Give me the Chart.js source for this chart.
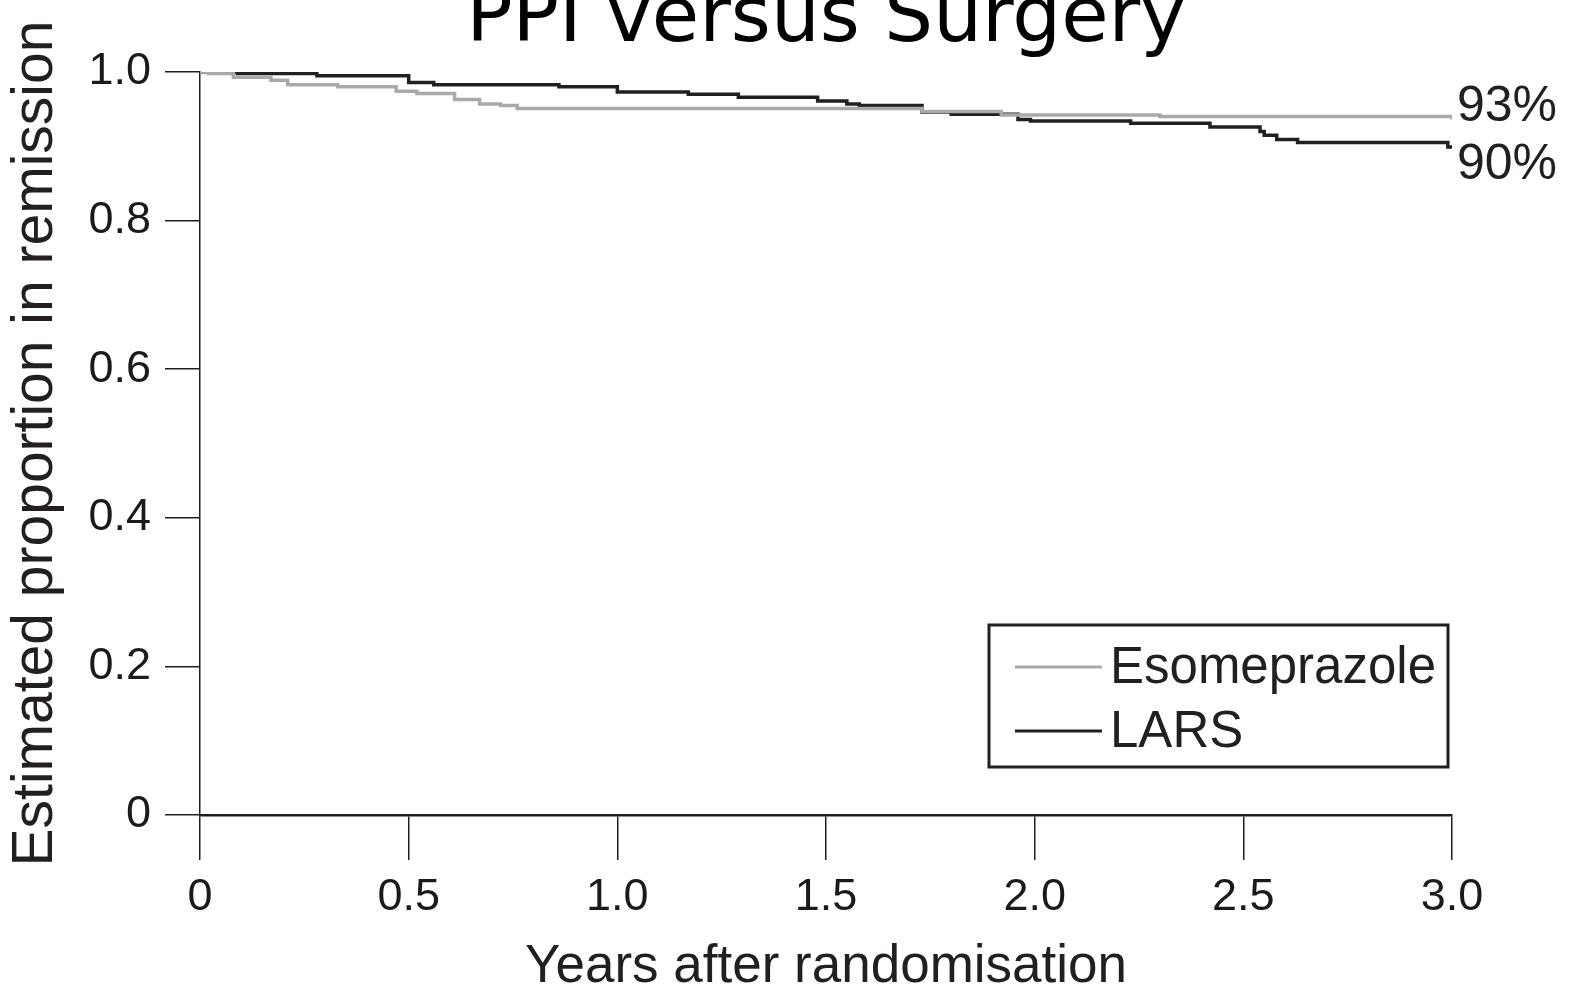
<!DOCTYPE html>
<html>
<head>
<meta charset="utf-8">
<title>PPI versus Surgery</title>
<script src="https://cdn.jsdelivr.net/npm/chart.js@4.4.1/dist/chart.umd.min.js"></script>
<style>
  html, body { margin: 0; padding: 0; background: #fff; }
  #wrap { width: 1577px; height: 994px; }
</style>
</head>
<body>
<div id="wrap"><canvas id="kmChart" width="1577" height="994"></canvas></div>
<script>
// values
const chartTitle = 'PPI versus Surgery';
const seriesNames = ['Esomeprazole', 'LARS'];
const seriesColors = ['#a9a9a9', '#231f20'];
const endLabels = ['93%', '90%'];

const esoYears = [0, 0.02, 0.08, 0.17, 0.21, 0.33, 0.47, 0.52, 0.61, 0.67, 0.72, 0.76, 1.73, 1.92, 2.30, 3.0];
const esoSurv  = [1.0, 0.998, 0.993, 0.989, 0.983, 0.980, 0.974, 0.971, 0.963, 0.957, 0.955, 0.951, 0.947, 0.942, 0.940, 0.936];

const larsYears = [0, 0.09, 0.28, 0.50, 0.56, 0.86, 1.00, 1.17, 1.29, 1.48, 1.55, 1.58, 1.73, 1.80, 1.96, 1.99, 2.23, 2.42, 2.54, 2.55, 2.58, 2.63, 2.99, 3.0];
const larsSurv  = [1.0, 0.998, 0.995, 0.986, 0.983, 0.980, 0.973, 0.970, 0.966, 0.961, 0.957, 0.955, 0.946, 0.943, 0.936, 0.934, 0.931, 0.926, 0.920, 0.915, 0.909, 0.905, 0.899, 0.899];

const xTicks = [0, 0.5, 1.0, 1.5, 2.0, 2.5, 3.0];
const xTickLabels = ['0', '0.5', '1.0', '1.5', '2.0', '2.5', '3.0'];
const yTicks = [0, 0.2, 0.4, 0.6, 0.8, 1.0];
const yTickLabels = ['0', '0.2', '0.4', '0.6', '0.8', '1.0'];

const FONT = '"Liberation Sans", Arial, sans-serif';

function toPoints(xs, ys) {
  return xs.map((x, i) => ({ x: x, y: ys[i] }));
}

// title sits above the canvas edge, as in the reference
const titlePlugin = {
  id: 'topTitle',
  afterDraw(chart) {
    const { ctx, chartArea } = chart;
    ctx.save();
    ctx.font = '77px "DejaVu Sans", sans-serif';
    ctx.fillStyle = '#000';
    ctx.textAlign = 'center';
    ctx.textBaseline = 'alphabetic';
    ctx.fillText(chartTitle, (chartArea.left + chartArea.right) / 2, 41);
    ctx.restore();
  }
};

// end-of-curve percentages
const endLabelPlugin = {
  id: 'endLabels',
  afterDatasetsDraw(chart) {
    const { ctx } = chart;
    const xs = chart.scales.x, ys = chart.scales.y;
    const shifts = [-12, 18];
    ctx.save();
    ctx.font = '50px ' + FONT;
    ctx.fillStyle = '#231f20';
    ctx.textAlign = 'left';
    ctx.textBaseline = 'middle';
    chart.data.datasets.forEach((ds, i) => {
      const last = ds.data[ds.data.length - 1];
      ctx.fillText(endLabels[i], xs.getPixelForValue(last.x) + 5, ys.getPixelForValue(last.y) + shifts[i]);
    });
    ctx.restore();
  }
};

// boxed legend inside the plot, lower right
const boxLegendPlugin = {
  id: 'boxLegend',
  afterDraw(chart) {
    const { ctx, chartArea } = chart;
    const right = chartArea.right - 4;
    const bottom = chartArea.bottom - 48;
    const w = 459, h = 142;
    const left = right - w, top = bottom - h;
    ctx.save();
    ctx.strokeStyle = '#231f20';
    ctx.lineWidth = 3;
    ctx.strokeRect(left, top, w, h);
    ctx.font = '51px ' + FONT;
    ctx.textBaseline = 'middle';
    ctx.textAlign = 'left';
    chart.data.datasets.forEach((ds, i) => {
      const yy = top + 42 + i * 64;
      ctx.strokeStyle = ds.borderColor;
      ctx.lineWidth = 3;
      ctx.beginPath();
      ctx.moveTo(left + 26, yy);
      ctx.lineTo(left + 113, yy);
      ctx.stroke();
      ctx.fillStyle = '#231f20';
      ctx.fillText(ds.label, left + 121, yy + 2);
    });
    ctx.restore();
  }
};

const ctx = document.getElementById('kmChart').getContext('2d');
new Chart(ctx, {
  type: 'line',
  data: {
    datasets: [
      {
        label: seriesNames[0],
        data: toPoints(esoYears, esoSurv),
        borderColor: seriesColors[0],
        borderWidth: 3.5,
        stepped: true,
        pointRadius: 0,
        fill: false
      },
      {
        label: seriesNames[1],
        data: toPoints(larsYears, larsSurv),
        borderColor: seriesColors[1],
        borderWidth: 3.5,
        stepped: true,
        pointRadius: 0,
        fill: false
      }
    ]
  },
  options: {
    responsive: false,
    animation: false,
    devicePixelRatio: 1,
    layout: { padding: { left: 0, right: 125, top: 72, bottom: 0 } },
    plugins: {
      legend: { display: false },
      title: { display: false },
      tooltip: { enabled: false }
    },
    scales: {
      x: {
        type: 'linear',
        min: 0,
        max: 3,
        afterFit(scale) { scale.height = 179; },
        afterBuildTicks(scale) { scale.ticks = xTicks.map(v => ({ value: v })); },
        ticks: {
          color: '#1a1a1a',
          font: { family: FONT, size: 45 },
          padding: 11,
          maxRotation: 0,
          callback: (v) => xTickLabels[xTicks.indexOf(v)]
        },
        grid: {
          drawOnChartArea: false,
          drawTicks: true,
          tickLength: 45,
          color: '#231f20',
          lineWidth: 1.5
        },
        border: { display: true, color: '#231f20', width: 2.5 },
        title: {
          display: true,
          text: 'Years after randomisation',
          color: '#231f20',
          font: { family: FONT, size: 53, lineHeight: 1.0 },
          padding: { top: 0, bottom: 0 }
        }
      },
      y: {
        type: 'linear',
        min: 0,
        max: 1,
        afterFit(scale) { scale.width = 200; },
        afterBuildTicks(scale) { scale.ticks = yTicks.map(v => ({ value: v })); },
        ticks: {
          color: '#1a1a1a',
          font: { family: FONT, size: 45 },
          padding: 14,
          callback: (v) => yTickLabels[yTicks.indexOf(v)]
        },
        grid: {
          drawOnChartArea: false,
          drawTicks: true,
          tickLength: 35,
          color: '#231f20',
          lineWidth: 1.5
        },
        border: { display: true, color: '#231f20', width: 1.5 },
        title: {
          display: true,
          text: 'Estimated proportion in remission',
          color: '#231f20',
          font: { family: FONT, size: 57, lineHeight: 1.0 },
          padding: { top: 8, bottom: 0 }
        }
      }
    }
  },
  plugins: [titlePlugin, endLabelPlugin, boxLegendPlugin]
});
</script>
</body>
</html>
